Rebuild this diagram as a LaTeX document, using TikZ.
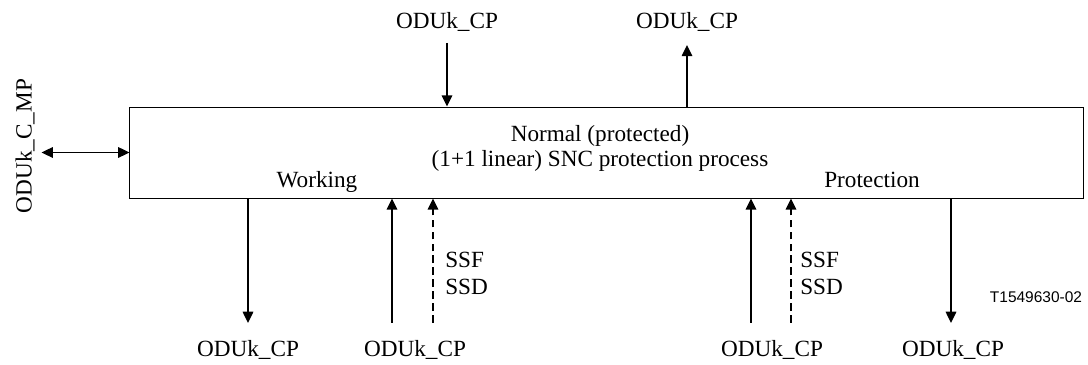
\documentclass[tikz,border=0pt]{standalone}
\usepackage{fontspec}
\setmainfont{Liberation Serif}
\newfontfamily\tagfont{Liberation Sans}
\usetikzlibrary{arrows.meta, positioning, calc}

\begin{document}
\begin{tikzpicture}[
    x=0.025cm, y=-0.025cm,
    proc/.style={draw, line width=0.6pt, minimum width=23.825cm, minimum height=2.275cm, inner sep=0pt},
    lbl/.style={inner sep=0pt, anchor=base},
    flow/.style={->, line width=1.1pt},
    sig/.style={->, line width=1.1pt, dash pattern=on 5.5pt off 3pt},
    >={Triangle[length=8pt, width=7.5pt]},
    font=\fontsize{16.5}{19.8}\selectfont,
]
    \useasboundingbox (0,0) rectangle (1088,365);

    % process box and its texts
    \node[proc] (snc) at (606.5,152.5) {};
    \node[lbl] (head1) at (600,142) {Normal (protected)};
    \node[lbl] (head2) at (600,167) {(1+1 linear) SNC protection process};
    \node[lbl] (work)  at (317,188) {Working};
    \node[lbl] (prot)  at (872,188) {Protection};

    % management point
    \node[rotate=90, inner sep=0pt] (mp) at (25,146) {ODUk\_C\_MP};

    % connection points
    \node[lbl] (cpin)  at (447,29)  {ODUk\_CP};
    \node[lbl] (cpout) at (687,29)  {ODUk\_CP};
    \node[lbl] (wout)  at (248,357) {ODUk\_CP};
    \node[lbl] (win)   at (415,357) {ODUk\_CP};
    \node[lbl] (pin)   at (772,357) {ODUk\_CP};
    \node[lbl] (pout)  at (953,357) {ODUk\_CP};

    % status signals
    \node[lbl, anchor=base west, align=left] (wsig) at (445,295) {SSF\\SSD};
    \node[lbl, anchor=base west, align=left] (psig) at (800,295) {SSF\\SSD};

    \node[font=\tagfont\fontsize{11}{13}\selectfont, anchor=base] (tag) at (1036,303) {T1549630-02};

    % free ends next to the labels
    \coordinate (mpend)   at ($(snc.west -| mp.base)+(10,0)$);
    \coordinate (cpinend) at ($(cpin.base)+(0,14)$);
    \coordinate (cpoutend) at ($(cpout.base)+(0,16)$);
    \coordinate (woutend) at ($(wout.base)+(0,-34)$);
    \coordinate (winend)  at ($(win.base)+(-23,-34)$);
    \coordinate (wsigend) at ($(win.base)+(18,-34)$);
    \coordinate (pinend)  at ($(pin.base)+(-21,-34)$);
    \coordinate (psigend) at ($(pin.base)+(19,-34)$);
    \coordinate (poutend) at ($(pout.base)+(-2,-34)$);

    \draw[<->, line width=1.1pt] (mpend) -- (snc.west);
    \draw[flow] (cpinend) -- (cpinend |- snc.north);
    \draw[flow] (cpoutend |- snc.north) -- (cpoutend);
    \draw[flow] (woutend |- snc.south) -- (woutend);
    \draw[flow] (winend) -- (winend |- snc.south);
    \draw[sig]  (wsigend) -- (wsigend |- snc.south);
    \draw[flow] (pinend) -- (pinend |- snc.south);
    \draw[sig]  (psigend) -- (psigend |- snc.south);
    \draw[flow] (poutend |- snc.south) -- (poutend);
\end{tikzpicture}
\end{document}
